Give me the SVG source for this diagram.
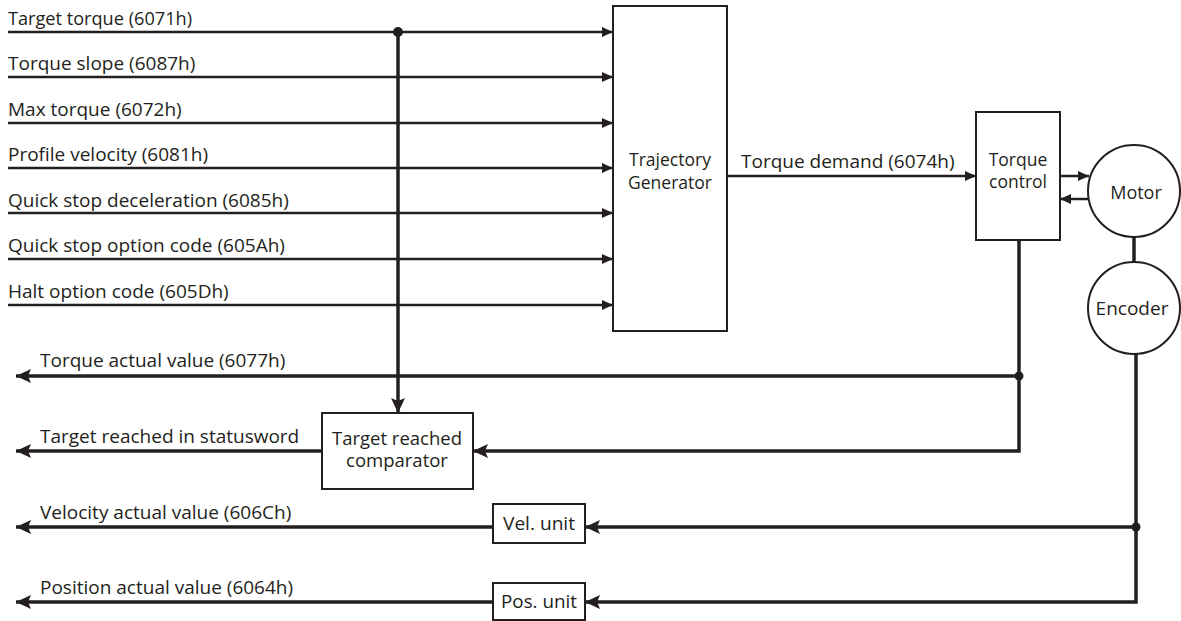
<svg xmlns="http://www.w3.org/2000/svg" width="1181" height="621" viewBox="0 0 1181 621">
<style>
text{font-family:"Open Sans","Liberation Sans",Arial,sans-serif;font-size:17.5px;fill:#231f20}
.l{font-size:19px}
.c{text-anchor:middle}
.box{fill:#fff;stroke:#231f20;stroke-width:2}
.ln{fill:none;stroke:#231f20;stroke-width:2.5}
.th{fill:none;stroke:#231f20;stroke-width:3.5}
</style>
<defs>
<marker id="a" markerUnits="userSpaceOnUse" markerWidth="12" markerHeight="10" refX="11" refY="5" orient="auto"><path d="M0,0 L11,5 L0,10 Z" fill="#231f20"/></marker>
<marker id="b" markerUnits="userSpaceOnUse" markerWidth="16" markerHeight="14" refX="15" refY="7" orient="auto"><path d="M0,0 L15,7 L0,14 L3,7 Z" fill="#231f20"/></marker>
</defs>
<g id="connectors">
<path class="ln" d="M8,32 H613" marker-end="url(#a)"/>
<path class="ln" d="M8,77 H613" marker-end="url(#a)"/>
<path class="ln" d="M8,123 H613" marker-end="url(#a)"/>
<path class="ln" d="M8,168 H613" marker-end="url(#a)"/>
<path class="ln" d="M8,213 H613" marker-end="url(#a)"/>
<path class="ln" d="M8,259 H613" marker-end="url(#a)"/>
<path class="ln" d="M8,305 H613" marker-end="url(#a)"/>
<path class="th" d="M398,32 V413" marker-end="url(#b)"/>
<circle cx="398" cy="32" r="5" fill="#231f20"/>
<path class="ln" d="M727,176 H976" marker-end="url(#a)"/>
<path class="ln" d="M1060,176 H1089" marker-end="url(#a)"/>
<path class="ln" d="M1089,199 H1060" marker-end="url(#a)"/>
<path class="th" d="M1134,237 V262"/>
<path class="th" d="M1019,240 V451 H473" marker-end="url(#b)"/>
<path class="th" d="M1019,376 H16" marker-end="url(#b)"/>
<circle cx="1019" cy="376" r="4.5" fill="#231f20"/>
<path class="th" d="M322,451 H16" marker-end="url(#b)"/>
<path class="th" d="M1136,354 V602 H585" marker-end="url(#b)"/>
<path class="th" d="M1136,527 H585" marker-end="url(#b)"/>
<circle cx="1136" cy="527" r="4.5" fill="#231f20"/>
<path class="th" d="M493,527 H16" marker-end="url(#b)"/>
<path class="th" d="M493,602 H16" marker-end="url(#b)"/>
</g>
<g id="labels">
<text class="l" x="8" y="25" textLength="184" lengthAdjust="spacingAndGlyphs">Target torque (6071h)</text>
<text class="l" x="8" y="70">Torque slope (6087h)</text>
<text class="l" x="8" y="116">Max torque (6072h)</text>
<text class="l" x="8" y="161">Profile velocity (6081h)</text>
<text class="l" x="8" y="207">Quick stop deceleration (6085h)</text>
<text class="l" x="8" y="252">Quick stop option code (605Ah)</text>
<text class="l" x="8" y="298">Halt option code (605Dh)</text>
<text class="l" x="741" y="168">Torque demand (6074h)</text>
<text class="l" x="40" y="367">Torque actual value (6077h)</text>
<text class="l" x="40" y="443">Target reached in statusword</text>
<text class="l" x="40" y="519">Velocity actual value (606Ch)</text>
<text class="l" x="40" y="594">Position actual value (6064h)</text>
</g>
<g id="trajectory">
<rect class="box" x="613" y="6" width="114" height="325"/>
<text class="c" x="670" y="166">Trajectory</text>
<text class="c" x="670" y="189">Generator</text>
</g>
<g id="torque-control">
<rect class="box" x="976" y="112" width="84" height="128"/>
<text class="c" x="1018" y="166">Torque</text>
<text class="c" x="1018" y="188">control</text>
</g>
<g id="motor">
<circle class="box" cx="1134" cy="191" r="46"/>
<text class="c" x="1136" y="199" style="font-size:18px">Motor</text>
</g>
<g id="encoder">
<circle class="box" cx="1134" cy="308" r="46"/>
<text class="c l" x="1132" y="315">Encoder</text>
</g>
<g id="comparator">
<rect class="box" x="322" y="413" width="151" height="76"/>
<text class="c" x="397" y="445" style="font-size:18.5px">Target reached</text>
<text class="c" x="397" y="467" style="font-size:18.5px">comparator</text>
</g>
<g id="vel-unit">
<rect class="box" x="493" y="504" width="92" height="39"/>
<text class="c" x="539" y="530" textLength="72" lengthAdjust="spacingAndGlyphs">Vel. unit</text>
</g>
<g id="pos-unit">
<rect class="box" x="493" y="583" width="92" height="37"/>
<text class="c" x="539" y="608" textLength="76" lengthAdjust="spacingAndGlyphs">Pos. unit</text>
</g>
</svg>
